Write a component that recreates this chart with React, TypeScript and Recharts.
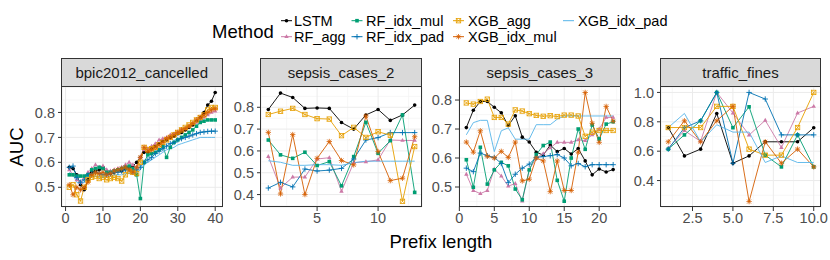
import React from 'react';
import { LineChart, Line, XAxis, YAxis, CartesianGrid } from 'recharts';

// ---------- categories / names ----------
const methods = ['LSTM', 'RF_agg', 'RF_idx_mul', 'RF_idx_pad', 'XGB_agg', 'XGB_idx_mul', 'XGB_idx_pad'];
const datasets = ['bpic2012_cancelled', 'sepsis_cases_2', 'sepsis_cases_3', 'traffic_fines'];

// ---------- bpic2012_cancelled ----------
const bpicPrefix = [1, 2, 3, 4, 5, 6, 7, 8, 9, 10, 11, 12, 13, 14, 15, 16, 17, 18, 19, 20, 21, 22, 23, 24, 25, 26, 27, 28, 29, 30, 31, 32, 33, 34, 35, 36, 37, 38, 39, 40];
const bpicLSTM = [0.58, 0.575, 0.55, 0.51, 0.49, 0.53, 0.56, 0.565, 0.57, 0.58, 0.56, 0.555, 0.56, 0.57, 0.565, 0.575, 0.58, 0.585, 0.6, 0.62, 0.64, 0.64, 0.655, 0.665, 0.675, 0.685, 0.69, 0.7, 0.705, 0.715, 0.72, 0.73, 0.74, 0.75, 0.765, 0.78, 0.8, 0.83, 0.845, 0.88];
const bpicRFagg = [0.57, 0.55, 0.53, 0.52, 0.54, 0.56, 0.575, 0.59, 0.58, 0.585, 0.57, 0.565, 0.57, 0.575, 0.58, 0.59, 0.6, 0.59, 0.58, 0.62, 0.65, 0.655, 0.665, 0.675, 0.69, 0.695, 0.7, 0.71, 0.715, 0.72, 0.73, 0.735, 0.745, 0.755, 0.76, 0.77, 0.78, 0.79, 0.8, 0.805];
const bpicRFidxMul = [0.55, 0.55, 0.545, 0.545, 0.545, 0.55, 0.57, 0.575, 0.58, 0.575, 0.56, 0.56, 0.565, 0.57, 0.575, 0.58, 0.585, 0.575, 0.55, 0.455, 0.6, 0.63, 0.635, 0.64, 0.65, 0.665, 0.62, 0.66, 0.68, 0.69, 0.7, 0.71, 0.72, 0.73, 0.745, 0.76, 0.765, 0.77, 0.77, 0.77];
const bpicRFidxPad = [0.58, 0.585, 0.54, 0.52, 0.53, 0.55, 0.555, 0.56, 0.555, 0.55, 0.55, 0.555, 0.56, 0.56, 0.565, 0.57, 0.57, 0.565, 0.57, 0.58, 0.6, 0.61, 0.62, 0.635, 0.645, 0.655, 0.665, 0.675, 0.68, 0.69, 0.695, 0.7, 0.705, 0.71, 0.715, 0.72, 0.722, 0.724, 0.725, 0.725];
const bpicXGBagg = [0.5, 0.51, 0.47, 0.445, 0.5, 0.53, 0.54, 0.545, 0.535, 0.54, 0.53, 0.535, 0.54, 0.535, 0.525, 0.55, 0.565, 0.56, 0.555, 0.6, 0.66, 0.65, 0.655, 0.66, 0.67, 0.68, 0.69, 0.7, 0.71, 0.72, 0.73, 0.74, 0.75, 0.76, 0.77, 0.78, 0.79, 0.81, 0.82, 0.82];
const bpicXGBidxMul = [0.51, 0.47, 0.5, 0.49, 0.5, 0.52, 0.55, 0.56, 0.555, 0.56, 0.55, 0.555, 0.565, 0.57, 0.575, 0.58, 0.57, 0.56, 0.58, 0.62, 0.66, 0.645, 0.65, 0.66, 0.67, 0.68, 0.695, 0.7, 0.71, 0.72, 0.73, 0.735, 0.745, 0.755, 0.77, 0.78, 0.79, 0.8, 0.81, 0.815];
const bpicXGBidxPad = [0.56, 0.55, 0.52, 0.51, 0.52, 0.54, 0.545, 0.545, 0.54, 0.54, 0.545, 0.545, 0.55, 0.55, 0.55, 0.555, 0.555, 0.555, 0.56, 0.57, 0.59, 0.6, 0.61, 0.62, 0.63, 0.64, 0.65, 0.655, 0.66, 0.67, 0.675, 0.68, 0.685, 0.69, 0.695, 0.7, 0.7, 0.7, 0.7, 0.7];

// ---------- sepsis_cases_2 ----------
const sep2Prefix = [1, 2, 3, 4, 5, 6, 7, 8, 9, 10, 11, 12, 13];
const sep2LSTM = [0.79, 0.865, 0.845, 0.795, 0.797, 0.795, 0.73, 0.7, 0.765, 0.79, 0.74, 0.765, 0.81];
const sep2RFagg = [0.574, 0.43, 0.48, 0.48, 0.563, 0.569, 0.415, 0.546, 0.55, 0.559, 0.65, 0.648, 0.648];
const sep2RFidxMul = [0.65, 0.582, 0.566, 0.594, 0.533, 0.551, 0.44, 0.574, 0.731, 0.589, 0.647, 0.765, 0.41];
const sep2RFidxPad = [0.43, 0.456, 0.435, 0.517, 0.508, 0.512, 0.52, 0.563, 0.65, 0.661, 0.684, 0.684, 0.684];
const sep2XGBagg = [0.767, 0.782, 0.795, 0.767, 0.748, 0.746, 0.67, 0.708, 0.662, 0.688, 0.672, 0.369, 0.62];
const sep2XGBidxMul = [0.685, 0.403, 0.675, 0.4, 0.566, 0.643, 0.556, 0.536, 0.76, 0.597, 0.464, 0.475, 0.665];
const sep2XGBidxPad = [0.555, 0.548, 0.534, 0.534, 0.537, 0.537, 0.534, 0.546, 0.553, 0.553, 0.553, 0.553, 0.553];

// ---------- sepsis_cases_3 ----------
const sep3Prefix = [1, 2, 3, 4, 5, 6, 7, 8, 9, 10, 11, 12, 13, 14, 15, 16, 17, 18, 19, 20, 21, 22];
const sep3LSTM = [0.705, 0.765, 0.795, 0.795, 0.775, 0.756, 0.712, 0.746, 0.672, 0.655, 0.62, 0.61, 0.645, 0.622, 0.633, 0.614, 0.633, 0.59, 0.542, 0.562, 0.552, 0.56];
const sep3RFagg = [0.544, 0.488, 0.477, 0.488, 0.562, 0.538, 0.503, 0.512, 0.451, 0.56, 0.6, 0.615, 0.635, 0.654, 0.654, 0.654, 0.663, 0.66, 0.68, 0.7, 0.74, 0.74];
const sep3RFidxMul = [0.594, 0.499, 0.637, 0.51, 0.559, 0.585, 0.573, 0.493, 0.456, 0.559, 0.612, 0.643, 0.655, 0.523, 0.451, 0.6, 0.7, 0.63, 0.714, 0.666, 0.717, 0.725];
const sep3RFidxPad = [0.565, 0.553, 0.617, 0.608, 0.602, 0.581, 0.515, 0.544, 0.565, 0.579, 0.602, 0.605, 0.608, 0.612, 0.6, 0.573, 0.581, 0.57, 0.577, 0.577, 0.577, 0.577];
const sep3XGBagg = [0.79, 0.786, 0.795, 0.803, 0.74, 0.74, 0.717, 0.766, 0.762, 0.753, 0.747, 0.744, 0.746, 0.743, 0.748, 0.748, 0.745, 0.675, 0.689, 0.695, 0.695, 0.695];
const sep3XGBidxMul = [0.655, 0.62, 0.694, 0.606, 0.6, 0.623, 0.602, 0.655, 0.521, 0.527, 0.6, 0.59, 0.484, 0.59, 0.488, 0.488, 0.62, 0.826, 0.72, 0.654, 0.778, 0.727];
const sep3XGBidxPad = [0.68, 0.722, 0.73, 0.73, 0.622, 0.694, 0.704, 0.665, 0.665, 0.665, 0.715, 0.715, 0.715, 0.734, 0.745, 0.745, 0.745, 0.745, 0.745, 0.745, 0.745, 0.745];

// ---------- traffic_fines ----------
const trafPrefix = [1, 2, 3, 4, 5, 6, 7, 8, 9, 10];
const trafLSTM = [0.76, 0.568, 0.614, 0.857, 0.518, 0.568, 0.664, 0.664, 0.664, 0.76];
const trafRFagg = [0.62, 0.74, 0.667, 1.0, 0.86, 0.71, 0.81, 0.625, 0.86, 0.905];
const trafRFidxMul = [0.614, 0.711, 0.807, 1.0, 0.76, 0.902, 0.573, 0.493, 0.711, 0.493];
const trafRFidxPad = [0.614, 0.76, 0.807, 1.0, 0.518, 1.0, 0.955, 0.711, 0.711, 0.711];
const trafXGBagg = [0.761, 0.761, 0.761, 0.905, 0.905, 0.614, 0.573, 0.573, 0.761, 1.0];
const trafXGBidxMul = [0.664, 0.807, 0.664, 0.807, 0.905, 0.257, 0.664, 0.518, 0.614, 0.493];
const trafXGBidxPad = [0.761, 0.857, 0.664, 0.78, 0.73, 0.73, 0.523, 0.568, 0.523, 0.523];

// ---------- axis ticks ----------
const bpicXTicks = [0, 10, 20, 30, 40];
const bpicYTicks = [0.5, 0.6, 0.7, 0.8];
const sep2XTicks = [5, 10];
const sep2YTicks = [0.4, 0.5, 0.6, 0.7, 0.8];
const sep3XTicks = [0, 5, 10, 15, 20];
const sep3YTicks = [0.5, 0.6, 0.7, 0.8];
const trafXTicks = [2.5, 5, 7.5, 10];
const trafYTicks = [0.4, 0.6, 0.8, 1.0];

// ---------- styles ----------
const COLORS: Record<string, string> = {
  LSTM: '#000000',
  RF_agg: '#CC79A7',
  RF_idx_mul: '#009E73',
  RF_idx_pad: '#0072B2',
  XGB_agg: '#E69F00',
  XGB_idx_mul: '#D55E00',
  XGB_idx_pad: '#56B4E9',
};
const SHAPES: Record<string, string> = {
  LSTM: 'circle',
  RF_agg: 'triangle',
  RF_idx_mul: 'square',
  RF_idx_pad: 'plus',
  XGB_agg: 'boxx',
  XGB_idx_mul: 'asterisk',
  XGB_idx_pad: 'none',
};
const FONT = '"Liberation Sans", Arial, Helvetica, sans-serif';

function buildRows(xs: number[], series: number[][]) {
  return xs.map((x, i) => {
    const row: Record<string, number> = { x };
    methods.forEach((m, j) => {
      row[m] = series[j][i];
    });
    return row;
  });
}

function minorBetween(ticks: number[], lo: number, hi: number) {
  if (ticks.length < 2) return [];
  const step = ticks[1] - ticks[0];
  const out: number[] = [];
  for (let v = ticks[0] - step / 2; v <= hi; v += step) {
    if (v >= lo) out.push(Math.round(v * 10000) / 10000);
  }
  return out;
}

const panels = [
  {
    title: datasets[0],
    rows: buildRows(bpicPrefix, [bpicLSTM, bpicRFagg, bpicRFidxMul, bpicRFidxPad, bpicXGBagg, bpicXGBidxMul, bpicXGBidxPad]),
    xDomain: [-0.95, 41.95], xTicks: bpicXTicks,
    yDomain: [0.421, 0.902], yTicks: bpicYTicks,
    left: 61.5, width: 160.5, fmtX: (v: number) => String(v),
  },
  {
    title: datasets[1],
    rows: buildRows(sep2Prefix, [sep2LSTM, sep2RFagg, sep2RFidxMul, sep2RFidxPad, sep2XGBagg, sep2XGBidxMul, sep2XGBidxPad]),
    xDomain: [0.4, 13.6], xTicks: sep2XTicks,
    yDomain: [0.343, 0.893], yTicks: sep2YTicks,
    left: 260.5, width: 161, fmtX: (v: number) => String(v),
  },
  {
    title: datasets[2],
    rows: buildRows(sep3Prefix, [sep3LSTM, sep3RFagg, sep3RFidxMul, sep3RFidxPad, sep3XGBagg, sep3XGBidxMul, sep3XGBidxPad]),
    xDomain: [-0.05, 23.05], xTicks: sep3XTicks,
    yDomain: [0.431, 0.845], yTicks: sep3YTicks,
    left: 459, width: 161.5, fmtX: (v: number) => String(v),
  },
  {
    title: datasets[3],
    rows: buildRows(trafPrefix, [trafLSTM, trafRFagg, trafRFidxMul, trafRFidxPad, trafXGBagg, trafXGBidxMul, trafXGBidxPad]),
    xDomain: [0.55, 10.45], xTicks: trafXTicks,
    yDomain: [0.22, 1.037], yTicks: trafYTicks,
    left: 660.5, width: 160, fmtX: (v: number) => v.toFixed(1),
  },
];

function Marker({ shape, cx, cy, color }: { shape: string; cx: number; cy: number; color: string }) {
  if (cx == null || cy == null || isNaN(cx) || isNaN(cy)) return <g />;
  switch (shape) {
    case 'circle':
      return <circle cx={cx} cy={cy} r={1.8} fill={color} />;
    case 'triangle':
      return <polygon points={`${cx},${cy - 2.5} ${cx - 2.2},${cy + 1.4} ${cx + 2.2},${cy + 1.4}`} fill={color} />;
    case 'square':
      return <rect x={cx - 1.8} y={cy - 1.8} width={3.6} height={3.6} fill={color} />;
    case 'plus':
      return <path d={`M${cx - 2.7},${cy}H${cx + 2.7}M${cx},${cy - 2.7}V${cy + 2.7}`} stroke={color} strokeWidth={0.9} fill="none" />;
    case 'boxx':
      return (
        <g>
          <rect x={cx - 2.2} y={cy - 2.2} width={4.4} height={4.4} fill="none" stroke={color} strokeWidth={0.8} />
          <path d={`M${cx - 2.2},${cy - 2.2}L${cx + 2.2},${cy + 2.2}M${cx - 2.2},${cy + 2.2}L${cx + 2.2},${cy - 2.2}`} stroke={color} strokeWidth={0.7} />
        </g>
      );
    case 'asterisk':
      return (
        <path
          d={`M${cx - 2.7},${cy}H${cx + 2.7}M${cx},${cy - 2.7}V${cy + 2.7}M${cx - 2},${cy - 2}L${cx + 2},${cy + 2}M${cx - 2},${cy + 2}L${cx + 2},${cy - 2}`}
          stroke={color}
          strokeWidth={0.8}
          fill="none"
        />
      );
    default:
      return <g />;
  }
}

const PLOT_TOP = 86.7;
const PLOT_H = 120;
const MARGIN_TOP = 10;
const YAXIS_W = 45;
const XAXIS_H = 30;
const MARGIN_RIGHT = 16;

function Panel({ p }: { p: (typeof panels)[number] }) {
  const chartW = YAXIS_W + p.width + MARGIN_RIGHT;
  const chartH = MARGIN_TOP + PLOT_H + XAXIS_H;
  const xMinor = minorBetween(p.xTicks, p.xDomain[0], p.xDomain[1]);
  const yMinor = minorBetween(p.yTicks, p.yDomain[0], p.yDomain[1]);
  const tickStyle = { fill: '#4D4D4D', fontSize: 14.5, fontFamily: FONT };
  return (
    <>
      <div style={{ position: 'absolute', left: p.left - YAXIS_W, top: PLOT_TOP - MARGIN_TOP }}>
        <LineChart width={chartW} height={chartH} data={p.rows} margin={{ top: MARGIN_TOP, right: MARGIN_RIGHT, bottom: 0, left: 0 }}>
          <CartesianGrid stroke="#F3F3F3" strokeWidth={0.7} horizontalValues={yMinor} verticalValues={xMinor} />
          <CartesianGrid stroke="#EBEBEB" strokeWidth={1} />
          <XAxis
            type="number"
            dataKey="x"
            domain={p.xDomain}
            ticks={p.xTicks}
            allowDataOverflow
            interval={0}
            axisLine={false}
            tickSize={4}
            tickMargin={2}
            tickLine={{ stroke: '#333333' }}
            tick={tickStyle}
            tickFormatter={p.fmtX}
            height={XAXIS_H}
          />
          <YAxis
            type="number"
            domain={p.yDomain}
            ticks={p.yTicks}
            allowDataOverflow
            interval={0}
            axisLine={false}
            tickSize={4}
            tickMargin={3}
            tickLine={{ stroke: '#333333' }}
            tick={tickStyle}
            tickFormatter={(v: number) => v.toFixed(1)}
            width={YAXIS_W}
          />
          {methods.map((m) => (
            <Line
              key={'l-' + m}
              type="linear"
              dataKey={m}
              stroke={COLORS[m]}
              strokeWidth={0.9}
              dot={false}
              activeDot={false}
              isAnimationActive={false}
            />
          ))}
          {methods
            .filter((m) => SHAPES[m] !== 'none')
            .map((m) => (
              <Line
                key={'p-' + m}
                type="linear"
                dataKey={m}
                stroke="none"
                strokeWidth={0}
                activeDot={false}
                isAnimationActive={false}
                dot={(props: any) => (
                  <Marker key={`${m}-${props.index}`} shape={SHAPES[m]} cx={props.cx} cy={props.cy} color={COLORS[m]} />
                )}
              />
            ))}
        </LineChart>
      </div>
      <div
        style={{
          position: 'absolute',
          left: p.left - 0.5,
          top: 58,
          width: p.width + 1,
          height: PLOT_TOP + PLOT_H + 0.5 - 58,
          border: '1px solid #333333',
          boxSizing: 'border-box',
          pointerEvents: 'none',
        }}
      >
        <div
          style={{
            height: 28.2,
            boxSizing: 'border-box',
            borderBottom: '1px solid #333333',
            background: '#D9D9D9',
            color: '#1A1A1A',
            fontSize: 15,
            fontFamily: FONT,
            display: 'flex',
            alignItems: 'center',
            justifyContent: 'center',
          }}
        >
          {p.title}
        </div>
      </div>
    </>
  );
}

const legendCols = [
  { iconX: 286.5, textX: 294 },
  { iconX: 357, textX: 366 },
  { iconX: 458.5, textX: 468 },
  { iconX: 568.5, textX: 578 },
];
const legendRows = [20.7, 36.7];

function Legend() {
  return (
    <svg width={830} height={50} style={{ position: 'absolute', left: 0, top: 0 }}>
      <text x={212} y={31} fontSize={18.5} fontFamily={FONT} fill="#000" dominantBaseline="central">
        Method
      </text>
      {methods.map((m, i) => {
        const col = legendCols[Math.floor(i / 2)];
        const y = legendRows[i % 2];
        return (
          <g key={m}>
            <line x1={col.iconX - 5.5} x2={col.iconX + 5.5} y1={y} y2={y} stroke={COLORS[m]} strokeWidth={1} />
            <Marker shape={SHAPES[m]} cx={col.iconX} cy={y} color={COLORS[m]} />
            <text x={col.textX} y={y} fontSize={14.5} fontFamily={FONT} fill="#000" dominantBaseline="central">
              {m}
            </text>
          </g>
        );
      })}
    </svg>
  );
}

export default function App() {
  return (
    <div style={{ position: 'absolute', left: 0, top: 0, width: 830, height: 260, background: '#fff', overflow: 'hidden' }}>
      <Legend />
      {panels.map((p) => (
        <Panel key={p.title} p={p} />
      ))}
      <div
        style={{
          position: 'absolute',
          left: 17,
          top: 146.7,
          transform: 'translate(-50%, -50%) rotate(-90deg)',
          fontSize: 18.5,
          fontFamily: FONT,
          color: '#000',
          whiteSpace: 'nowrap',
        }}
      >
        AUC
      </div>
      <div
        style={{
          position: 'absolute',
          left: 441,
          top: 242,
          transform: 'translate(-50%, -50%)',
          fontSize: 18.5,
          fontFamily: FONT,
          color: '#000',
          whiteSpace: 'nowrap',
        }}
      >
        Prefix length
      </div>
    </div>
  );
}
